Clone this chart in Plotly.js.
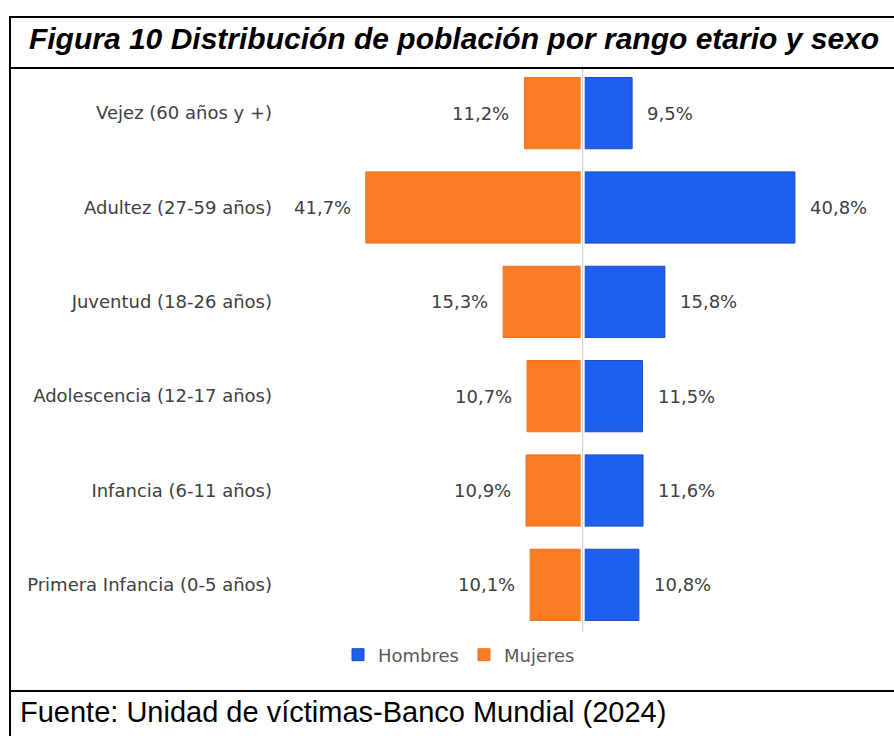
<!DOCTYPE html>
<html>
<head>
<meta charset="utf-8">
<script src="https://cdn.plot.ly/plotly-3.0.1.min.js"></script>
<style>
  html, body { margin: 0; padding: 0; background: #ffffff; }
  #wrap { position: relative; width: 894px; height: 736px; overflow: hidden; }
  #chart { position: absolute; left: 0; top: 0; width: 894px; height: 736px; }
  .bl { position: absolute; background: #000000; z-index: 5; }
</style>
</head>
<body>
<div id="wrap">
  <div id="chart"></div>
  <div class="bl" style="left:9px; top:16px; width:885px; height:2px;"></div>
  <div class="bl" style="left:9px; top:16px; width:2px; height:720px;"></div>
  <div class="bl" style="left:9px; top:67px; width:885px; height:2px;"></div>
  <div class="bl" style="left:9px; top:690px; width:885px; height:2px;"></div>
</div>
<script>
// ---- data ----
const categories = [
  "Vejez (60 años y +)",
  "Adultez (27-59 años)",
  "Juventud (18-26 años)",
  "Adolescencia (12-17 años)",
  "Infancia (6-11 años)",
  "Primera Infancia (0-5 años)"
];
const hombres = [9.5, 40.8, 15.8, 11.5, 11.6, 10.8];
const mujeres = [11.2, 41.7, 15.3, 10.7, 10.9, 10.1];
const seriesNames = ["Hombres", "Mujeres"];
const titleText = "Figura 10 Distribución de población por rango etario y sexo";
const sourceText = "Fuente: Unidad de víctimas-Banco Mundial (2024)";

// ---- styles ----
const ORANGE = "#F97B22";
const BLUE = "#1F5FEE";
const BLUE_EDGE = "#1B4BC0";
const TXT = "#404040";
const LBL_FONT = "DejaVu Sans";

function fmt(v) { return v.toFixed(1).replace(".", ",") + "%"; }

const traces = [
  {
    type: "bar", orientation: "h", name: seriesNames[0],
    y: categories, x: hombres,
    marker: { color: BLUE, line: { color: BLUE_EDGE, width: 1 } },
    hoverinfo: "skip"
  },
  {
    type: "bar", orientation: "h", name: seriesNames[1],
    y: categories, x: mujeres.map(v => -v),
    marker: { color: ORANGE, line: { color: "#EE7420", width: 1 } },
    hoverinfo: "skip"
  }
];

const annotations = [];
categories.forEach((c, i) => {
  annotations.push({
    x: hombres[i], y: c, xref: "x", yref: "y",
    text: fmt(hombres[i]), showarrow: false,
    xanchor: "left", yanchor: "middle", xshift: 13,
    font: { family: LBL_FONT, size: 18, color: TXT }
  });
  annotations.push({
    x: -mujeres[i], y: c, xref: "x", yref: "y",
    text: fmt(mujeres[i]), showarrow: false,
    xanchor: "right", yanchor: "middle", xshift: -13,
    font: { family: LBL_FONT, size: 18, color: TXT }
  });
});
// source note
annotations.push({
  x: (18 - 281) / 593, y: -(712 - 632) / 566, xref: "paper", yref: "paper",
  text: sourceText, showarrow: false, xanchor: "left", yanchor: "middle",
  font: { family: "Liberation Sans, Arial, sans-serif", size: 29, color: "#000000" }
});

const layout = {
  width: 894, height: 736,
  margin: { l: 281, r: 20, t: 66, b: 104, pad: 0 },
  paper_bgcolor: "#ffffff", plot_bgcolor: "#ffffff",
  barmode: "overlay", bargap: 0.245,
  hovermode: false,
  title: {
    text: titleText,
    xref: "container", yref: "container",
    x: 454 / 894, xanchor: "center",
    y: 1 - 38 / 736, yanchor: "middle",
    font: { family: "Liberation Sans, Arial, sans-serif", size: 30, color: "#000000", weight: "bold", style: "italic" }
  },
  xaxis: {
    range: [-58, 56], showgrid: false, zeroline: false,
    showticklabels: false, ticks: "", showline: false, fixedrange: true
  },
  yaxis: {
    type: "category", autorange: "reversed",
    showgrid: false, zeroline: false, showline: false, ticks: "",
    ticklabelstandoff: 8,
    tickfont: { family: LBL_FONT, size: 18, color: TXT },
    fixedrange: true
  },
  shapes: [
    { type: "line", xref: "x", yref: "paper", x0: 0, x1: 0, y0: 0, y1: 1,
      line: { color: "#ffffff", width: 4 }, layer: "above" },
    { type: "line", xref: "x", yref: "paper", x0: 0, x1: 0, y0: 0, y1: 1,
      line: { color: "#C8C8C8", width: 1 }, layer: "above" }
  ],
  showlegend: true,
  legend: {
    orientation: "h", x: (459 - 281) / 593, xanchor: "center",
    y: -(655 - 632) / 566, yanchor: "middle",
    font: { family: LBL_FONT, size: 18, color: "#595959" },
    itemwidth: 30, traceorder: "normal", bgcolor: "rgba(0,0,0,0)"
  },
  annotations: annotations
};

Plotly.newPlot("chart", traces, layout, { staticPlot: true, displayModeBar: false });
</script>
</body>
</html>
